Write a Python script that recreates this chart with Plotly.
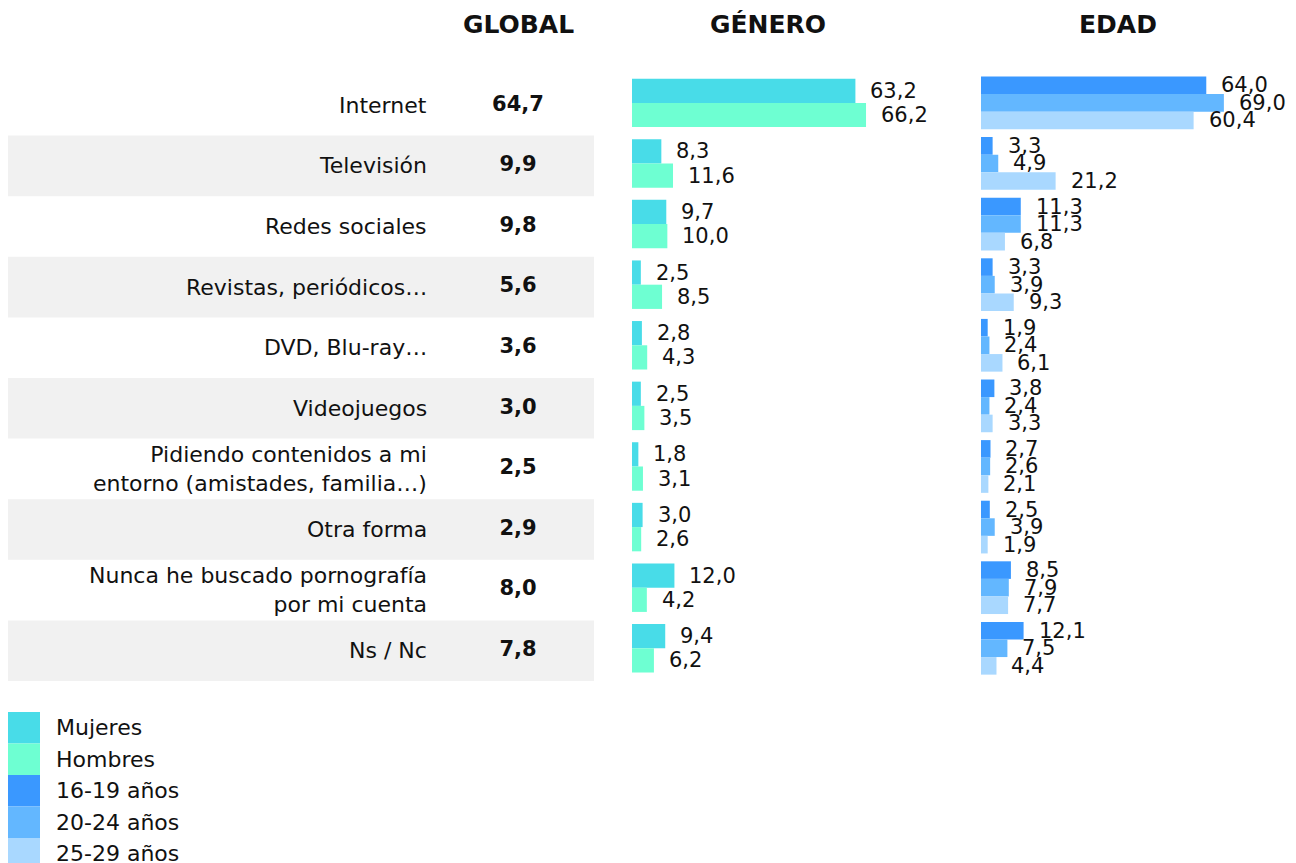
import plotly.graph_objects as go

# data
categorias = ["Internet", "Televisión", "Redes sociales", "Revistas, periódicos…", "DVD, Blu-ray…",
              "Videojuegos", "Pidiendo contenidos a mi<br>entorno (amistades, familia…)", "Otra forma",
              "Nunca he buscado pornografía<br>por mi cuenta", "Ns / Nc"]
global_vals = [64.7, 9.9, 9.8, 5.6, 3.6, 3.0, 2.5, 2.9, 8.0, 7.8]
mujeres = [63.2, 8.3, 9.7, 2.5, 2.8, 2.5, 1.8, 3.0, 12.0, 9.4]
hombres = [66.2, 11.6, 10.0, 8.5, 4.3, 3.5, 3.1, 2.6, 4.2, 6.2]
edad_16_19 = [64.0, 3.3, 11.3, 3.3, 1.9, 3.8, 2.7, 2.5, 8.5, 12.1]
edad_20_24 = [69.0, 4.9, 11.3, 3.9, 2.4, 2.4, 2.6, 3.9, 7.9, 7.5]
edad_25_29 = [60.4, 21.2, 6.8, 9.3, 6.1, 3.3, 2.1, 1.9, 7.7, 4.4]

series_names = ["Mujeres", "Hombres", "16-19 años", "20-24 años", "25-29 años"]
colores = ["#48DCE8", "#6EFFD2", "#3A98FF", "#63B7FF", "#A9D8FF"]

W, H = 1296, 863
FONT = "DejaVu Sans"
TXT = "#111111"
OFF = 8  # page margin of the browser


def px(x):
    return (x - OFF) / W


def py(y):
    return 1 - (y - OFF) / H


def fmt(v):
    return f"{v:.1f}".replace(".", ",")


idx = list(range(len(categorias)))

fig = go.Figure()

# global column (text only)
fig.add_trace(go.Scatter(
    x=[518 - OFF] * len(idx), y=idx, mode="text",
    text=["<b>" + fmt(v) + "</b>" for v in global_vals],
    textfont=dict(family=FONT, size=21, color=TXT),
    xaxis="x", yaxis="y", hoverinfo="skip", showlegend=False
))

# genero + edad bars
bar_sets = [
    (mujeres, "x2", 0.4, -0.4, colores[0]),
    (hombres, "x2", 0.4, 0.0, colores[1]),
    (edad_16_19, "x3", 0.29, -0.435, colores[2]),
    (edad_20_24, "x3", 0.29, -0.145, colores[3]),
    (edad_25_29, "x3", 0.29, 0.145, colores[4]),
]
annotations = []
for (vals, xa, w, off, col), name in zip(bar_sets, series_names):
    fig.add_trace(go.Bar(
        x=vals, y=idx, orientation="h", name=name,
        xaxis=xa, yaxis="y2", width=w, offset=off,
        marker=dict(color=col, line=dict(width=0)),
        showlegend=False
    ))
    for i, v in enumerate(vals):
        annotations.append(dict(
            x=v, y=i + off + w / 2, xref=xa, yref="y2",
            text=fmt(v), showarrow=False, xanchor="left", yanchor="middle",
            xshift=13, font=dict(family=FONT, size=21, color=TXT)
        ))

# row labels
for i, c in enumerate(categorias):
    annotations.append(dict(
        x=px(429), y=i, xref="paper", yref="y", text=c, showarrow=False,
        xanchor="right", yanchor="middle", align="right",
        font=dict(family=FONT, size=22, color=TXT)
    ))

# headers
for t, xc in [("GLOBAL", 518), ("GÉNERO", 768), ("EDAD", 1118)]:
    annotations.append(dict(
        x=px(xc), y=py(25), xref="paper", yref="paper", text="<b>" + t + "</b>",
        showarrow=False, xanchor="center", yanchor="middle",
        font=dict(family=FONT, size=25, color=TXT)
    ))

shapes = []
# zebra rows
for i in idx:
    if i % 2 == 1:
        shapes.append(dict(
            type="rect", xref="paper", yref="y", x0=px(7), x1=px(594),
            y0=i - 0.5, y1=i + 0.5, fillcolor="#F1F1F1", line=dict(width=0), layer="below"
        ))

# legend
for k, (name, col) in enumerate(zip(series_names, colores)):
    top = 712 + 31.5 * k
    shapes.append(dict(
        type="rect", xref="paper", yref="paper", x0=px(7), x1=px(40),
        y0=py(top + 31.5), y1=py(top), fillcolor=col, line=dict(width=0)
    ))
    annotations.append(dict(
        x=px(54), y=py(top + 15.5), xref="paper", yref="paper", text=name,
        showarrow=False, xanchor="left", yanchor="middle",
        font=dict(family=FONT, size=22, color=TXT)
    ))

ydom = [py(681), py(75)]
fig.update_layout(
    width=W, height=H,
    margin=dict(l=0, r=0, t=0, b=0),
    paper_bgcolor="white", plot_bgcolor="rgba(0,0,0,0)",
    barmode="overlay",
    xaxis=dict(domain=[0, 1], range=[0, W], visible=False, anchor="y", fixedrange=True),
    yaxis=dict(domain=ydom, range=[9.5, -0.5], visible=False, anchor="x"),
    xaxis2=dict(domain=[px(632), px(632 + 80 * 3.535)], range=[0, 80], visible=False, anchor="y2"),
    xaxis3=dict(domain=[px(981), px(981 + 80 * 3.52)], range=[0, 80], visible=False, anchor="y2"),
    yaxis2=dict(domain=ydom, range=[9.54, -0.46], visible=False, anchor="x2"),
    shapes=shapes,
    annotations=annotations,
    font=dict(family=FONT, color=TXT),
)

fig.write_html("out.html")
